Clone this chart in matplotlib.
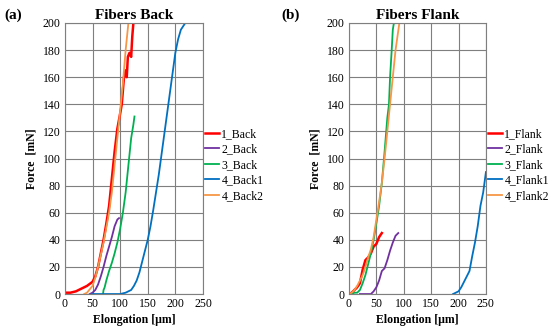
import matplotlib
matplotlib.use('Agg')
from matplotlib import pyplot as plt

# Fibers Back
back_names = ['1_Back', '2_Back', '3_Back', '4_Back1', '4_Back2']
back_x = [
    [0, 10, 20, 30, 40, 50, 55, 60, 65, 70, 75, 80, 85, 90, 95, 100, 103, 107, 110, 112, 114, 117, 120, 122, 124],
    [45, 50, 55, 60, 65, 70, 75, 80, 85, 90, 95, 98],
    [69, 70, 72, 75, 80, 85, 90, 95, 100, 105, 110, 115, 120, 124, 126],
    [50, 100, 110, 120, 125, 130, 135, 140, 145, 150, 155, 160, 165, 170, 175, 180, 185, 190, 195, 200, 205, 210, 218],
    [35, 40, 50, 55, 60, 70, 80, 85, 90, 95, 100, 105, 110, 115],
]
back_y = [
    [1, 1, 2, 4, 6, 9, 13, 20, 30, 40, 52, 65, 85, 105, 122, 133, 140, 160, 165, 160, 175, 178, 175, 190, 200],
    [0, 1, 3, 7, 13, 20, 28, 35, 42, 50, 55, 56],
    [0, 3, 5, 10, 17, 23, 30, 38, 48, 60, 75, 95, 115, 125, 131],
    [0, 0, 1, 3, 6, 10, 16, 24, 32, 40, 50, 62, 75, 88, 103, 118, 133, 148, 163, 178, 188, 195, 200],
    [0, 1, 6, 12, 20, 38, 60, 75, 95, 115, 135, 155, 180, 200],
]

# Fibers Flank
flank_names = ['1_Flank', '2_Flank', '3_Flank', '4_Flank1', '4_Flank2']
flank_x = [
    [0, 5, 10, 15, 20, 25, 30, 35, 40, 45, 50, 55, 60],
    [20, 40, 45, 50, 55, 60, 65, 70, 75, 80, 85, 90],
    [5, 10, 15, 20, 25, 30, 35, 40, 45, 50, 55, 60, 65, 70, 73, 75, 78, 80, 82],
    [190, 195, 200, 205, 210, 215, 220, 225, 230, 235, 240, 245, 250],
    [0, 5, 10, 15, 20, 25, 30, 35, 40, 45, 50, 55, 60, 65, 70, 75, 80, 85, 92],
]
flank_y = [
    [0, 1, 3, 5, 8, 18, 25, 27, 30, 35, 37, 42, 45],
    [0, 0, 2, 5, 10, 17, 19, 25, 32, 38, 43, 45],
    [0, 1, 1, 3, 8, 14, 22, 30, 40, 52, 65, 82, 105, 130, 140, 160, 180, 195, 200],
    [0, 1, 2, 5, 9, 13, 17, 28, 38, 50, 65, 75, 90],
    [0, 1, 3, 6, 10, 14, 20, 27, 33, 42, 55, 68, 82, 100, 120, 140, 160, 180, 200],
]

colors = ['#FF0000', '#7030A0', '#00B050', '#0070C0', '#F79646']
widths = [1.8, 1.3, 1.3, 1.3, 1.3]

plt.rcParams['font.family'] = ['Liberation Serif', 'DejaVu Serif']

fig = plt.figure(figsize=(5.5, 3.33), dpi=100)


def draw_panel(rect, names, xs, ys, title, tag, tag_x):
    ax = fig.add_axes(rect)
    for name, x, y, c, w in zip(names, xs, ys, colors, widths):
        ax.plot(x, y, color=c, lw=w, label=name)
    ax.set_xlim(0, 250)
    ax.set_ylim(0, 200)
    ax.set_xticks(range(0, 251, 50))
    ax.set_yticks(range(0, 201, 20))
    ax.grid(True, color='#7f7f7f', lw=0.8)
    ax.set_axisbelow(True)
    for s in ax.spines.values():
        s.set_color('#7f7f7f')
        s.set_linewidth(0.8)
    ax.tick_params(length=0, labelsize=8.5, pad=3)
    ax.set_title(title, fontsize=11, fontweight='bold', pad=3)
    ax.set_xlabel('Elongation [\u03bcm]', fontsize=8.5, fontweight='bold', labelpad=3)
    ax.set_ylabel('Force  [mN]', fontsize=8.5, fontweight='bold', labelpad=4)
    ax.legend(loc='center left', bbox_to_anchor=(0.98, 0.476), frameon=False,
              fontsize=8.5, handlelength=1.2, handletextpad=0.2, labelspacing=0.3,
              borderaxespad=0)
    fig.text(tag_x, 0.955, tag, fontsize=11, fontweight='bold', va='center')
    return ax


draw_panel([0.118, 0.117, 0.251, 0.814], back_names, back_x, back_y, 'Fibers Back', '(a)', 0.008)
draw_panel([0.6345, 0.117, 0.249, 0.814], flank_names, flank_x, flank_y, 'Fibers Flank', '(b)', 0.512)

plt.savefig('out.png', dpi=100)
